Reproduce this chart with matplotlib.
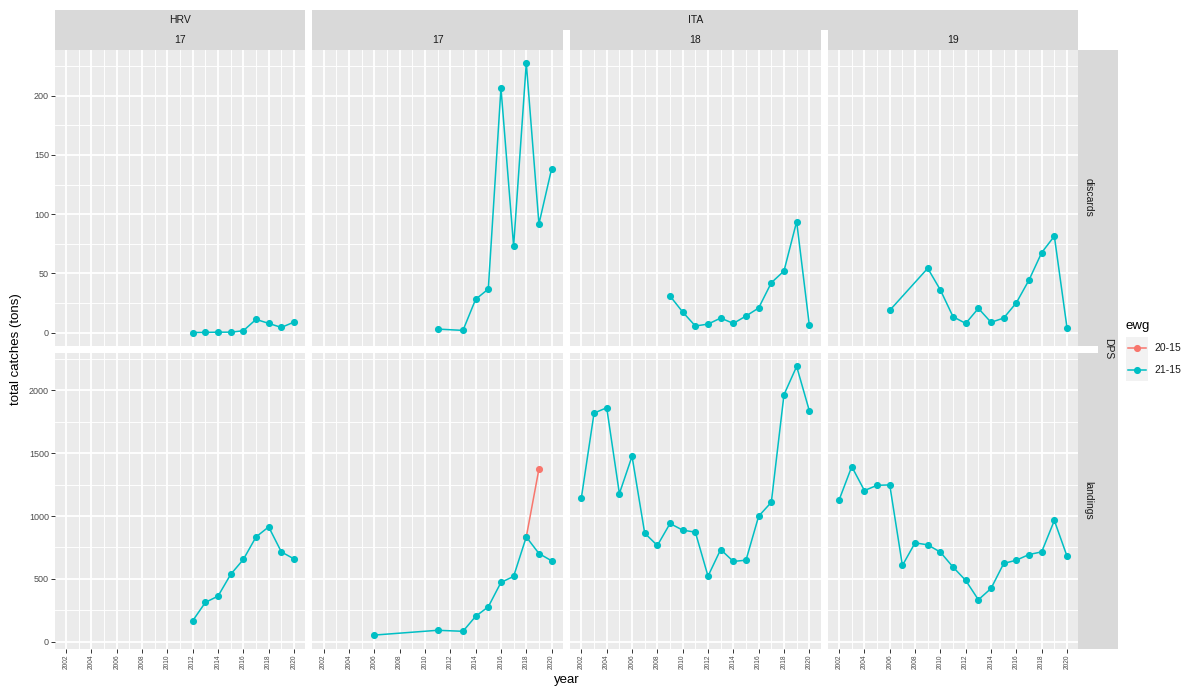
import matplotlib
matplotlib.use("Agg")
import matplotlib.pyplot as plt
from matplotlib.ticker import MultipleLocator

plt.rcParams['font.family'] = ['Liberation Sans', 'DejaVu Sans']

# ---------------- data ----------------
countries = ["HRV", "ITA", "ITA", "ITA"]
areas = ["17", "17", "18", "19"]
catch_types = ["discards", "landings"]
species = "DPS"
ewg_levels = ["20-15", "21-15"]
ewg_colors = {"20-15": "#F8766D", "21-15": "#00BFC4"}

hrv17_dis_years = [2012, 2013, 2014, 2015, 2016, 2017, 2018, 2019, 2020]
hrv17_dis = [0.2, 0.3, 0.5, 0.5, 1.7, 11.3, 7.9, 4.5, 9.0]
hrv17_lan_years = [2012, 2013, 2014, 2015, 2016, 2017, 2018, 2019, 2020]
hrv17_lan = [167, 313, 363, 536, 655, 834, 914, 715, 659]

ita17_dis_years = [2011, 2013, 2014, 2015, 2016, 2017, 2018, 2019, 2020]
ita17_dis = [3.1, 2.0, 28.2, 36.9, 206.5, 73.0, 227.6, 91.8, 138.3]
ita17_lan_years = [2006, 2011, 2013, 2014, 2015, 2016, 2017, 2018, 2019, 2020]
ita17_lan = [53, 91, 83, 202, 278, 472, 520, 834, 702, 644]
ita17_lan_prev_years = [2018, 2019]
ita17_lan_prev = [834, 1375]

ita18_dis_years = [2009, 2010, 2011, 2012, 2013, 2014, 2015, 2016, 2017, 2018, 2019, 2020]
ita18_dis = [31.0, 17.5, 5.7, 7.3, 12.4, 7.9, 14.1, 20.9, 42.2, 52.1, 93.8, 6.5]
ita18_lan_years = list(range(2002, 2021))
ita18_lan = [1147, 1820, 1862, 1179, 1476, 864, 766, 941, 888, 872,
             522, 734, 639, 649, 999, 1110, 1966, 2191, 1839]

ita19_dis_years = [2006, 2009, 2010, 2011, 2012, 2013, 2014, 2015, 2016, 2017, 2018, 2019, 2020]
ita19_dis = [18.9, 54.4, 36.1, 13.5, 7.9, 20.6, 8.8, 12.4, 25.3, 44.5, 67.6, 81.5, 4.2]
ita19_lan_years = list(range(2002, 2021))
ita19_lan = [1128, 1394, 1203, 1245, 1248, 607, 787, 771, 713, 594,
             488, 334, 424, 623, 649, 694, 715, 965, 681]

x_breaks = list(range(2002, 2021, 2))
dis_breaks = [0, 50, 100, 150, 200]
lan_breaks = [0, 500, 1000, 1500, 2000]

# series[(col, row)] -> list of (ewg, years, values)
series = {
    (0, 0): [("21-15", hrv17_dis_years, hrv17_dis)],
    (0, 1): [("21-15", hrv17_lan_years, hrv17_lan)],
    (1, 0): [("21-15", ita17_dis_years, ita17_dis)],
    (1, 1): [("20-15", ita17_lan_prev_years, ita17_lan_prev),
             ("21-15", ita17_lan_years, ita17_lan)],
    (2, 0): [("21-15", ita18_dis_years, ita18_dis)],
    (2, 1): [("21-15", ita18_lan_years, ita18_lan)],
    (3, 0): [("21-15", ita19_dis_years, ita19_dis)],
    (3, 1): [("21-15", ita19_lan_years, ita19_lan)],
}
row_breaks = [dis_breaks, lan_breaks]

# ---------------- layout (pixels) ----------------
W, H, DPI = 1194, 688, 100
fig = plt.figure(figsize=(W / DPI, H / DPI), dpi=DPI)
fig.patch.set_facecolor("white")


def fbox(x0, y0, x1, y1):
    return [x0 / W, 1 - y1 / H, (x1 - x0) / W, (y1 - y0) / H]


col_x = [(54.7, 305.4), (312.3, 563.0), (570.0, 820.7), (827.7, 1078.4)]
row_y = [(49.5, 346.0), (353.0, 648.5)]

STRIP_BG = "#D9D9D9"
TXT = "#1A1A1A"
AX_TXT = "#4D4D4D"


def expanded(lo, hi, frac=0.05):
    pad = (hi - lo) * frac
    return lo - pad, hi + pad


# shared x range across all panels, free y range per row
all_years = [y for v in series.values() for s in v for y in s[1]]
xlim = expanded(min(all_years), max(all_years))

row_lims = []
for r in range(2):
    vals = [v for c in range(4) for s in series[(c, r)] for v in s[2]]
    row_lims.append(expanded(min(vals), max(vals)))

for c in range(4):
    for r in range(2):
        x0, x1 = col_x[c]
        y0, y1 = row_y[r]
        ax = fig.add_axes(fbox(x0, y0, x1, y1))
        ax.set_facecolor("#EBEBEB")
        for sp in ax.spines.values():
            sp.set_visible(False)
        ax.set_xlim(*xlim)
        ax.set_ylim(*row_lims[r])
        ax.set_xticks(x_breaks)
        ax.xaxis.set_minor_locator(MultipleLocator(1))
        ax.set_yticks(row_breaks[r])
        step = row_breaks[r][1] - row_breaks[r][0]
        ax.yaxis.set_minor_locator(MultipleLocator(step / 2))
        ax.grid(True, which="major", color="white", lw=1.3)
        ax.grid(True, which="minor", color="white", lw=0.65)
        ax.set_axisbelow(True)
        ax.tick_params(which="minor", length=0)
        ax.tick_params(which="major", length=2.7, width=0.7, color="#333333",
                       labelcolor=AX_TXT, pad=1.5)
        if c == 0:
            ax.tick_params(axis="y", labelsize=6.5)
        else:
            ax.tick_params(axis="y", length=0, labelleft=False)
        if r == 1:
            ax.tick_params(axis="x", labelsize=4.8, labelrotation=90)
        else:
            ax.tick_params(axis="x", length=0, labelbottom=False)

        for ewg, yrs, vals in series[(c, r)]:
            ax.plot(yrs, vals, color=ewg_colors[ewg], lw=1.1, zorder=2)
        for ewg, yrs, vals in series[(c, r)]:
            ax.plot(yrs, vals, ls="none", marker="o", ms=4.1,
                    color=ewg_colors[ewg], zorder=3)


def strip(x0, y0, x1, y1, text, rot=0):
    ax = fig.add_axes(fbox(x0, y0, x1, y1))
    ax.set_xlim(0, 1)
    ax.set_ylim(0, 1)
    ax.set_facecolor(STRIP_BG)
    for sp in ax.spines.values():
        sp.set_visible(False)
    ax.set_xticks([])
    ax.set_yticks([])
    ax.text(0.5, 0.5, text, rotation=rot, ha="center", va="center",
            fontsize=7.5, color=TXT)


# top strips: country spanning its columns, area per column
strip(col_x[0][0], 10, col_x[0][1], 30, countries[0])
strip(col_x[1][0], 10, col_x[3][1], 30, countries[1])
for c in range(4):
    strip(col_x[c][0], 30, col_x[c][1], 49.5, areas[c])

# right strips: catch type per row, species spanning both rows
for r in range(2):
    strip(1078.4, row_y[r][0], 1098, row_y[r][1], catch_types[r], rot=-90)
strip(1098, row_y[0][0], 1118, row_y[1][1], species, rot=-90)

# axis titles
fig.text(16 / W, 1 - 349 / H, "total catches (tons)", rotation=90,
         ha="center", va="center", fontsize=9.5, color="black")
fig.text(567 / W, 1 - 680 / H, "year", ha="center", va="center",
         fontsize=9.5, color="black")

# legend
lx = 1126
fig.text(lx / W, 1 - 326 / H, "ewg", ha="left", va="center", fontsize=9.5, color="black")
key_h = 22
for i, ewg in enumerate(ewg_levels):
    ky = 337 + i * key_h
    kax = fig.add_axes(fbox(lx, ky, lx + 22, ky + key_h))
    kax.set_xlim(0, 1)
    kax.set_ylim(0, 1)
    kax.set_facecolor("#F2F2F2")
    for sp in kax.spines.values():
        sp.set_visible(False)
    kax.set_xticks([])
    kax.set_yticks([])
    kax.plot([0.1, 0.9], [0.5, 0.5], color=ewg_colors[ewg], lw=1.1)
    kax.plot([0.5], [0.5], marker="o", ms=4.1, color=ewg_colors[ewg])
    fig.text((lx + 28) / W, 1 - (ky + key_h / 2) / H, ewg, ha="left",
             va="center", fontsize=7.5, color=TXT)

fig.savefig("out.png", dpi=DPI)
